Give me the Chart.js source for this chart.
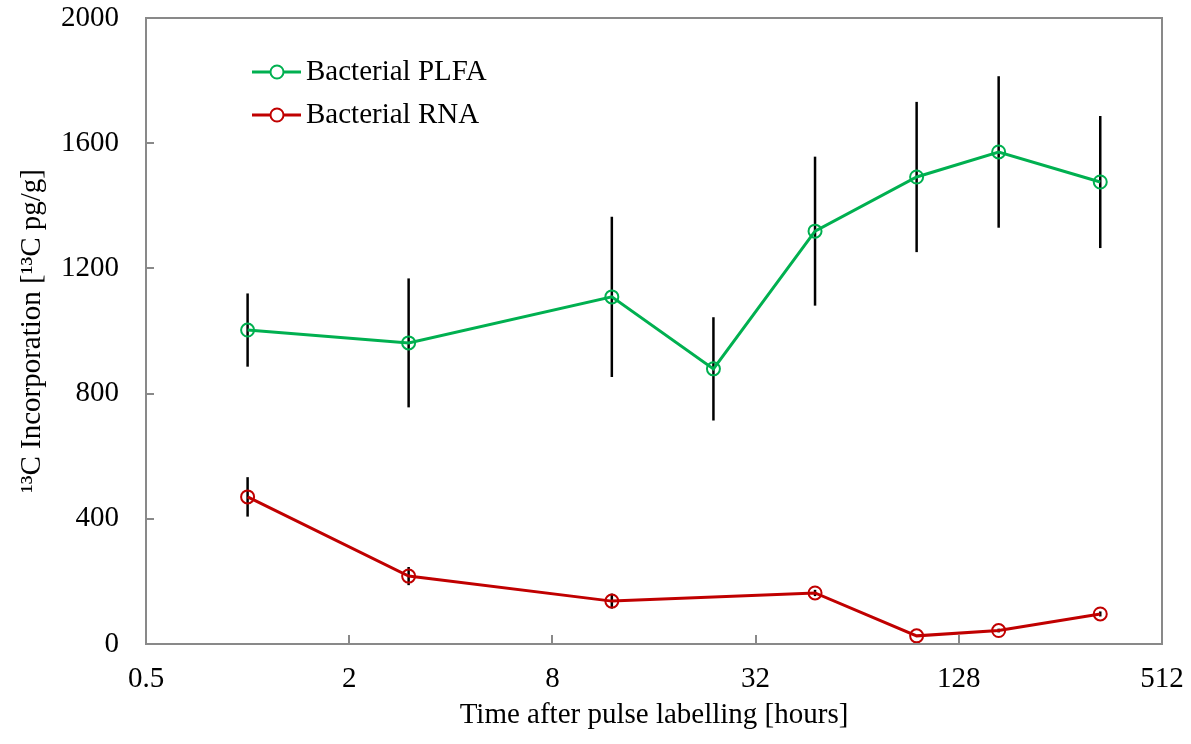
<!DOCTYPE html>
<html lang="en">

<head>
    <meta charset="UTF-8">
    <title>13C incorporation</title>
    <style>
        body {
            margin: 0;
            background-color: white;
        }

        #chart {
            display: block;
        }
    </style>
</head>

<body>
    <canvas id="chart" width="1191" height="744"></canvas>
</body>

</html>
<script src="https://cdn.jsdelivr.net/npm/chart.js@4.4.1/dist/chart.umd.min.js"></script>
<script type="text/javascript">
    // data
    var plfaHours = [1, 3, 12, 24, 48, 96, 168, 336];
    var plfaValues = [1003, 962, 1109, 879, 1319, 1492, 1572, 1476];
    var plfaErrors = [117, 206, 256, 165, 238, 240, 242, 211];

    var rnaHours = [1, 3, 12, 48, 96, 168, 336];
    var rnaValues = [470, 217, 137, 163, 26, 43, 96];
    var rnaErrors = [63, 29, 24, 10, 0, 6, 8];

    var xTickValues = [0.5, 2, 8, 32, 128, 512];
    var yTickStep = 400;

    var FONT = "'Liberation Serif', 'Times New Roman', serif";
    var AXIS_GREY = '#898989';
    var GREEN = '#00b050';
    var RED = '#c00000';

    function toPoints(xs, ys) {
        return xs.map(function(x, i) {
            return { x: x, y: ys[i] };
        });
    }

    // black error bars, through the chart scales
    var errorBarPlugin = {
        id: 'errorBars',
        beforeDatasetsDraw: function(chart) {
            var ctx = chart.ctx;
            var xs = chart.scales.x;
            var ys = chart.scales.y;
            var sets = [[plfaHours, plfaValues, plfaErrors], [rnaHours, rnaValues, rnaErrors]];
            ctx.save();
            ctx.strokeStyle = '#000';
            ctx.lineWidth = 2.5;
            sets.forEach(function(s) {
                s[0].forEach(function(h, i) {
                    if (!s[2][i]) return;
                    var px = xs.getPixelForValue(h);
                    ctx.beginPath();
                    ctx.moveTo(px, ys.getPixelForValue(s[1][i] - s[2][i]));
                    ctx.lineTo(px, ys.getPixelForValue(s[1][i] + s[2][i]));
                    ctx.stroke();
                });
            });
            ctx.restore();
        }
    };

    // frame + inward tick marks + legend
    var framePlugin = {
        id: 'frame',
        afterDraw: function(chart) {
            var ctx = chart.ctx;
            var a = chart.chartArea;
            var xs = chart.scales.x;
            var ys = chart.scales.y;
            ctx.save();
            ctx.strokeStyle = AXIS_GREY;
            ctx.lineWidth = 2;
            ctx.strokeRect(a.left, a.top, a.right - a.left, a.bottom - a.top);
            ctx.beginPath();
            xTickValues.forEach(function(v) {
                var px = Math.round(xs.getPixelForValue(v));
                ctx.moveTo(px, a.bottom);
                ctx.lineTo(px, a.bottom - 9);
            });
            for (var v = 0; v <= 2000; v += yTickStep) {
                var py = Math.round(ys.getPixelForValue(v));
                ctx.moveTo(a.left, py);
                ctx.lineTo(a.left + 8, py);
            }
            ctx.stroke();

            // legend
            var rows = [72, 115];
            chart.data.datasets.forEach(function(ds, i) {
                var y = rows[i];
                ctx.strokeStyle = ds.borderColor;
                ctx.lineWidth = 3;
                ctx.beginPath();
                ctx.moveTo(252, y);
                ctx.lineTo(301, y);
                ctx.stroke();
                ctx.lineWidth = 2;
                ctx.fillStyle = 'white';
                ctx.beginPath();
                ctx.arc(277, y, 6.5, 0, Math.PI * 2);
                ctx.fill();
                ctx.stroke();
                ctx.fillStyle = '#000';
                ctx.font = '29px ' + FONT;
                ctx.textBaseline = 'middle';
                ctx.textAlign = 'left';
                ctx.fillText(ds.label, 306, y);
            });
            ctx.restore();
        }
    };

    function initChart() {
        var ctx = document.getElementById('chart').getContext('2d');
        new Chart(ctx, {
            type: 'line',
            data: {
                datasets: [{
                    label: 'Bacterial PLFA',
                    data: toPoints(plfaHours, plfaValues),
                    borderColor: GREEN,
                    backgroundColor: GREEN,
                    borderWidth: 3,
                    pointRadius: 6.5,
                    pointBorderWidth: 2,
                    pointBorderColor: GREEN,
                    pointBackgroundColor: 'rgba(0,0,0,0)',
                    tension: 0
                }, {
                    label: 'Bacterial RNA',
                    data: toPoints(rnaHours, rnaValues),
                    borderColor: RED,
                    backgroundColor: RED,
                    borderWidth: 3,
                    pointRadius: 6.5,
                    pointBorderWidth: 2,
                    pointBorderColor: RED,
                    pointBackgroundColor: 'rgba(0,0,0,0)',
                    tension: 0
                }]
            },
            options: {
                responsive: false,
                animation: false,
                layout: {
                    padding: { top: 18, right: 29, left: 0, bottom: 0 }
                },
                plugins: {
                    legend: { display: false },
                    tooltip: { enabled: false }
                },
                scales: {
                    x: {
                        type: 'logarithmic',
                        min: 0.5,
                        max: 512,
                        afterBuildTicks: function(scale) {
                            scale.ticks = xTickValues.map(function(v) { return { value: v }; });
                        },
                        afterFit: function(scale) {
                            scale.height = 100;
                            scale.paddingLeft = 0;
                            scale.paddingRight = 0;
                        },
                        grid: { display: false, drawTicks: false },
                        border: { display: false },
                        ticks: {
                            autoSkip: false,
                            maxRotation: 0,
                            padding: 18,
                            color: '#000',
                            font: { family: FONT, size: 29 },
                            callback: function(v) { return String(v); }
                        },
                        title: {
                            display: true,
                            text: 'Time after pulse labelling [hours]',
                            color: '#000',
                            font: { family: FONT, size: 29 },
                            padding: { top: 0, bottom: 11 }
                        }
                    },
                    y: {
                        min: 0,
                        max: 2000,
                        afterFit: function(scale) {
                            scale.width = 146;
                            scale.paddingTop = 0;
                            scale.paddingBottom = 0;
                        },
                        grid: { display: false, drawTicks: false },
                        border: { display: false },
                        ticks: {
                            stepSize: yTickStep,
                            padding: 27,
                            color: '#000',
                            font: { family: FONT, size: 29 },
                            callback: function(v) { return String(v); }
                        },
                        title: {
                            display: true,
                            text: '¹³C Incorporation [¹³C pg/g]',
                            color: '#000',
                            font: { family: FONT, size: 29 },
                            padding: { top: 15, bottom: 0 }
                        }
                    }
                }
            },
            plugins: [errorBarPlugin, framePlugin]
        });
    }

    initChart();
</script>
